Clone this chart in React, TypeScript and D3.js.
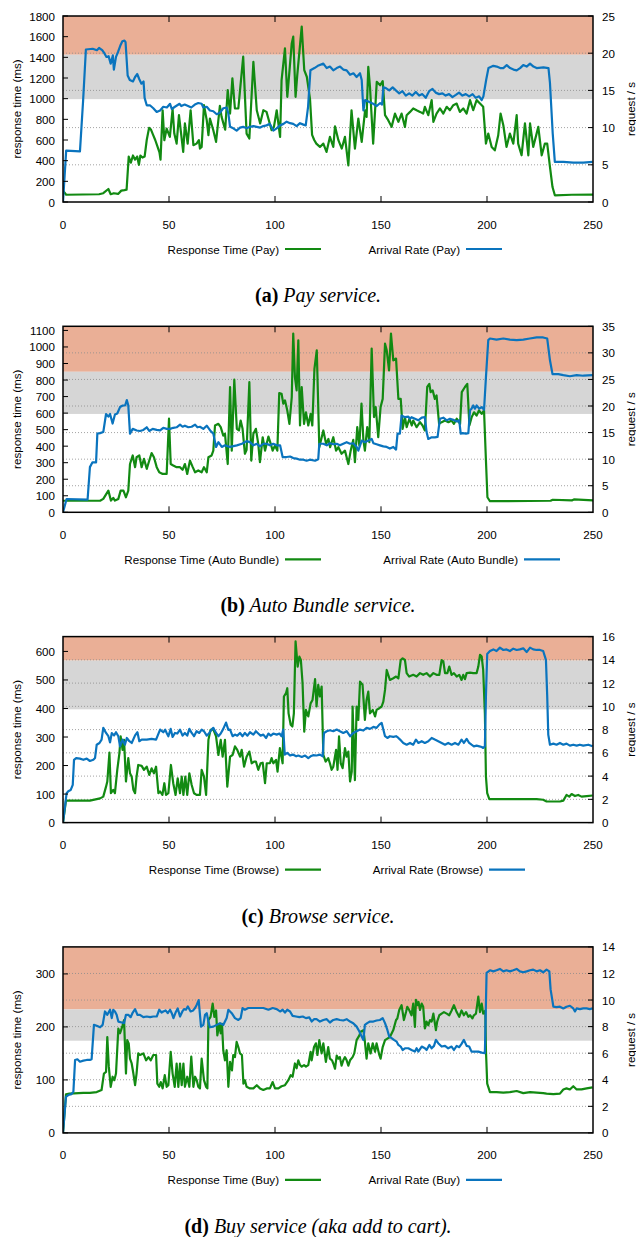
import React from 'react'
import * as d3 from 'd3'

type Pt = [number, number]

// time axis (s)
const xTicks = [0, 50, 100, 150, 200, 250]

// (a) Pay: response time (ms) and arrival rate (req/s), [t, value]
const payResponse: Pt[] = [
    [0, 110], [1.5, 70], [17, 75], [19, 85], [21.4, 126], [22.5, 75], [24, 85], [26, 78], [27.5, 110], [29, 115],
    [30, 120], [31, 440], [32, 380], [33, 450], [34, 410], [35, 440], [35.8, 360], [36.5, 450], [37.5, 430], [38.5, 440],
    [39.5, 600], [40.6, 717], [41.5, 700], [42.5, 650], [43.5, 600], [44.5, 540], [45.5, 480], [46, 410], [47, 888], [47.8, 598],
    [48.9, 711], [50.4, 630], [51.7, 898], [52.5, 662], [53.6, 565], [54.7, 840], [56.7, 485], [57.5, 760], [58.8, 565], [60.2, 888],
    [61.5, 550], [63, 565], [64.1, 598], [64.6, 517], [65.4, 533], [66.5, 937], [67.8, 792], [68.6, 646], [69.3, 808], [70.9, 695],
    [72.2, 582], [74, 930], [74.8, 824], [76.5, 700], [77.7, 1082], [78.8, 856], [79.9, 1196], [81.1, 905], [82.7, 905], [85, 1406],
    [86.6, 662], [87.9, 614], [89.8, 1357], [91.4, 888], [93, 760], [94.5, 888], [96, 872], [98.4, 695], [99.5, 727], [100.8, 888],
    [102.4, 630], [103.1, 1180], [104.7, 1486], [105.8, 1018], [107.9, 1535], [108.6, 1600], [109.7, 1018], [110.5, 1228], [112.6, 1697], [113.8, 1277],
    [115, 1212], [116.5, 1000], [117.5, 650], [118.5, 600], [119.5, 565], [121.2, 533], [122.8, 565], [124.3, 485], [125.9, 630], [127.5, 533],
    [128.3, 733], [129.9, 598], [131.5, 517], [133, 630], [134.6, 355], [136.1, 888], [137.7, 517], [139.3, 808], [140.9, 582], [142.5, 888],
    [143.2, 824], [144, 1309], [144.8, 1115], [146.3, 565], [148, 1163], [149.6, 1130], [150.8, 1170], [151.9, 840], [153.4, 792], [155, 727],
    [156.6, 856], [158.2, 776], [159.7, 856], [161.3, 727], [162.1, 840], [163.7, 872], [165.2, 905], [166.8, 888], [168.4, 872], [169.9, 856],
    [170.7, 921], [172.3, 840], [173.9, 986], [174.7, 776], [176.2, 856], [177.8, 905], [179.4, 856], [181, 921], [182.5, 888], [184.1, 937],
    [185.7, 953], [187.2, 872], [188.8, 905], [190.4, 856], [192, 986], [193.5, 888], [195.1, 986], [196.7, 953], [198.2, 921], [199.5, 565],
    [200.6, 662], [202.2, 533], [203.7, 500], [205.3, 646], [206.4, 856], [207.7, 743], [209.2, 533], [210.8, 662], [212.4, 565], [214, 840],
    [214.7, 565], [216.3, 452], [217.9, 760], [219.5, 452], [220.3, 760], [221.8, 533], [224.2, 727], [225.8, 452], [227.3, 565], [228.4, 565],
    [229.7, 339], [230.9, 145], [232, 65], [240, 70], [250, 71],
]
const payArrival: Pt[] = [
    [0, 0], [1.5, 6.9], [8, 6.8], [9.5, 13.7], [10.8, 20.5], [14, 20.6], [16, 20.4], [17, 20.7], [18.5, 20.4], [19.5, 20.0],
    [20.5, 19.5], [21.5, 19.6], [22.5, 18.6], [23.5, 19.7], [24, 17.8], [25, 19.5], [26, 20.2], [27, 21.0], [28, 21.6], [29, 21.7],
    [29.5, 21.5], [30.5, 17.0], [31.5, 16.4], [33, 16.2], [34, 16.8], [35, 17.2], [36, 16.5], [37, 15.9], [38, 16.2], [38.5, 14.0],
    [39.5, 13.0], [41, 13.0], [42.6, 12.6], [44.2, 12.1], [45.8, 12.3], [47.3, 12.8], [49, 12.7], [50.5, 13.2], [51.3, 12.5], [52.8, 12.8],
    [55, 13.2], [55.8, 12.9], [57.4, 13.1], [59, 12.9], [60.5, 12.7], [62.2, 13.1], [63.8, 13.3], [65.4, 13.2], [66.2, 12.7], [67.8, 12.8],
    [69.3, 12.3], [70.9, 12.2], [72.5, 11.8], [74, 12.0], [75.6, 12.6], [77.2, 12.7], [78, 11.9], [78.8, 10.1], [80.3, 9.9], [81.9, 9.6],
    [83.5, 10.0], [85, 10.1], [86.6, 9.9], [88.2, 10.1], [89.8, 10.2], [91.4, 10.1], [93, 10.0], [94.5, 10.2], [96, 10.3], [97.6, 10.5],
    [99.2, 9.6], [100.8, 9.9], [102.4, 10.3], [104, 10.5], [105.5, 10.8], [107.1, 10.6], [108.6, 10.5], [110.2, 10.2], [111.8, 10.6], [113.4, 10.4],
    [114.5, 10.3], [115.6, 12.8], [116.7, 17.7], [118.6, 18.0], [120.2, 18.3], [122.8, 18.6], [124.4, 18.0], [125.9, 18.2], [127.5, 17.7], [129.1, 18.0],
    [130.7, 18.2], [132.2, 17.8], [133.8, 17.7], [135.4, 17.1], [137, 17.3], [138.5, 16.8], [140.1, 17.3], [140.9, 16.4], [141.7, 12.3], [142.5, 13.7],
    [144, 13.5], [146.3, 13.2], [148, 12.9], [149.6, 13.3], [150.5, 13.1], [151.1, 15.4], [152.3, 15.3], [153.9, 15.0], [155.5, 15.4], [157, 15.0],
    [158.6, 14.6], [160.1, 14.9], [161.7, 14.3], [163.3, 14.6], [164.8, 14.3], [166.4, 14.8], [168, 14.3], [169.5, 14.5], [171.1, 14.0], [172.7, 14.9],
    [174.3, 15.2], [175.8, 14.7], [177.4, 14.5], [179, 14.6], [180.5, 14.3], [182.1, 14.5], [183.7, 14.1], [185.3, 14.4], [186.8, 14.7], [188.4, 14.3],
    [190, 14.5], [191.6, 14.2], [193.2, 14.5], [194.7, 14.0], [196.3, 14.2], [197.5, 13.7], [198.3, 14.2], [199.6, 16.4], [200.7, 18.0], [203, 18.3],
    [204.6, 18.2], [206.2, 18.0], [207.7, 18.0], [209.3, 18.4], [210.9, 18.0], [212.5, 17.8], [214, 17.7], [215.6, 18.0], [217.1, 18.4], [218.7, 18.2],
    [220.3, 18.6], [221.9, 18.2], [223.4, 18.0], [226.6, 18.1], [229, 18.0], [229.7, 16.0], [231, 9.2], [232, 5.4], [236, 5.4], [240.7, 5.3],
    [245.4, 5.3], [249.8, 5.4],
]

// (b) Auto Bundle
const bundleResponse: Pt[] = [
    [0, 70], [17.5, 70], [19, 81], [21.4, 131], [22.6, 71], [23.7, 87], [24.5, 71], [26.1, 81], [27.2, 131], [28.5, 131],
    [29.7, 91], [30.8, 131], [31.6, 292], [32.9, 344], [34, 273], [34.7, 333], [36, 344], [37.1, 273], [38.2, 323], [39.5, 263],
    [40.7, 313], [41.8, 358], [42.9, 333], [44.2, 273], [45.4, 242], [47, 232], [48.9, 232], [50, 566], [50.8, 292], [52, 283],
    [53.6, 273], [55.2, 273], [56.4, 257], [57.5, 292], [58.6, 232], [59.9, 313], [61.2, 273], [62.3, 242], [63.8, 253], [65.4, 242],
    [66.5, 273], [67.8, 242], [68.6, 333], [70.1, 344], [70.9, 373], [71.7, 525], [73.3, 535], [74.4, 515], [75.6, 464], [76.4, 475],
    [77.7, 292], [78.8, 758], [79.6, 373], [80.8, 802], [82, 505], [83, 495], [83.8, 555], [84.7, 505], [85.8, 354], [86.6, 378],
    [87.9, 787], [88.8, 313], [89.8, 475], [91, 505], [92.1, 414], [92.9, 303], [94.2, 454], [95.3, 373], [96.9, 458], [98, 414],
    [98.9, 373], [100, 404], [101.1, 373], [102, 721], [103.1, 717], [103.9, 657], [104.7, 677], [105.8, 616], [106.8, 535], [107.9, 696],
    [108.6, 1081], [109.4, 818], [110.2, 737], [111, 1040], [111.8, 525], [112.6, 758], [113.7, 535], [114.6, 605], [115.7, 525], [116.8, 595],
    [117.6, 525], [118.6, 868], [119.7, 980], [120.9, 394], [122.8, 495], [124.1, 414], [125.2, 444], [126, 394], [127.5, 454], [128.8, 373],
    [129.9, 394], [131.4, 354], [133, 373], [134.6, 292], [135.7, 373], [136.9, 438], [137.7, 303], [138.8, 515], [139.8, 404], [140.8, 657],
    [141.7, 435], [142.4, 373], [143.5, 515], [144.5, 424], [145.6, 990], [146.7, 576], [147.5, 636], [148.7, 454], [149.8, 636], [150.8, 686],
    [151.9, 1020], [152.7, 980], [153.8, 858], [154.7, 1081], [155.8, 919], [157.1, 930], [158.2, 686], [159.3, 686], [160.2, 505], [161.3, 576],
    [162.1, 515], [163.4, 566], [164.5, 525], [165.2, 555], [166.8, 515], [168.4, 545], [169.6, 525], [170.7, 495], [171.8, 758], [172.8, 777],
    [173.4, 727], [174.4, 737], [175.4, 686], [176.2, 707], [177.4, 535], [178.6, 545], [180.2, 555], [181.8, 545], [183.3, 555], [184.4, 535],
    [185.7, 566], [187.3, 535], [188.1, 727], [189.6, 758], [190.7, 777], [191.7, 525], [192.8, 576], [193.9, 605], [195.1, 585], [196.2, 616],
    [197.5, 595], [198.6, 616], [199.5, 313], [200.2, 91], [201.4, 67], [230, 70], [231, 76], [240, 72], [241, 78], [250, 72],
]
const bundleArrival: Pt[] = [
    [0, 0], [1.7, 2.5], [11.6, 2.4], [12.7, 8.5], [13.9, 9.4], [15.6, 9.4], [16.2, 14.8], [17.5, 14.9], [19, 15.1], [20.3, 18.5],
    [21.4, 18.0], [22.2, 18.5], [23.4, 16.7], [24.5, 18.4], [25.6, 18.6], [26.9, 19.8], [28.2, 20.1], [29.3, 20.1], [30.1, 21.1], [30.8, 20.1],
    [31.6, 14.8], [32.9, 15.7], [34.8, 15.4], [36.3, 15.3], [37.9, 15.5], [39.5, 16.0], [40.7, 15.3], [42.3, 15.7], [44.2, 15.5], [45.8, 15.4],
    [47.3, 15.9], [48.9, 15.7], [50.5, 15.7], [52, 15.9], [53.6, 16.0], [55.2, 16.5], [56.4, 16.1], [57.5, 16.3], [59.1, 16.0], [60.7, 16.1],
    [62.3, 16.5], [63.4, 16.0], [64.6, 16.1], [66.2, 15.7], [67.8, 16.3], [69.4, 15.4], [70.9, 14.8], [72.2, 12.3], [73.3, 13.2], [74.9, 12.3],
    [76.4, 12.6], [78.8, 12.3], [82, 12.6], [84.4, 12.9], [86.6, 13.4], [88.2, 13.2], [89.8, 12.6], [91.4, 12.9], [92.9, 12.4], [94.5, 12.9],
    [96.1, 12.9], [97.6, 12.6], [99.2, 12.9], [100.8, 12.6], [102.4, 12.6], [103.6, 10.4], [105.5, 10.4], [107.1, 10.5], [108.6, 10.2], [110.2, 10.1],
    [111.8, 9.9], [113.4, 9.9], [114.9, 9.7], [116.5, 9.9], [118.9, 9.7], [120.4, 10.0], [120.9, 12.9], [122.8, 12.9], [124.4, 12.6], [125.9, 13.0],
    [127.5, 12.8], [129.1, 12.9], [130.6, 12.6], [132.2, 12.9], [133.8, 13.2], [135.4, 12.9], [136.9, 13.0], [138.5, 12.3], [139.3, 11.6], [140.9, 13.5],
    [142.4, 13.2], [144, 13.5], [145.6, 13.8], [146.4, 13.0], [147.9, 12.8], [149.5, 12.6], [151.1, 12.4], [152.7, 12.3], [154.2, 12.0], [155.8, 12.3],
    [157.1, 11.8], [157.8, 14.8], [158.9, 14.8], [159.7, 18.2], [161.3, 17.9], [162.9, 18.0], [163.7, 17.6], [164.4, 17.9], [166, 17.6], [167.6, 17.3],
    [169.2, 17.8], [170.7, 17.9], [171.5, 15.1], [172.3, 13.8], [173.9, 14.1], [175.4, 14.1], [176.7, 14.2], [177.8, 17.6], [179.4, 17.8], [181, 17.3],
    [182.5, 17.6], [184.1, 17.4], [185.7, 17.1], [186.9, 17.3], [187.6, 14.8], [188.5, 14.9], [190.1, 14.8], [191.2, 14.9], [192, 19.2], [192.7, 19.5],
    [193.5, 20.1], [194.3, 19.5], [195.1, 20.1], [196.4, 19.5], [197.5, 19.8], [198.6, 19.3], [199.5, 25.4], [200.6, 32.4], [201.4, 32.7], [204.5, 32.5],
    [207.7, 32.7], [210.8, 32.5], [214, 32.4], [217.1, 32.5], [220.2, 32.7], [223.4, 32.9], [226.5, 32.9], [228.4, 32.7], [229.7, 28.6], [230.9, 26.0],
    [233.6, 26.0], [236, 25.8], [239.1, 25.6], [242.3, 25.8], [245.4, 25.7], [249.8, 25.8],
]

// (c) Browse
const browseResponse: Pt[] = [
    [0, 0], [1.4, 77], [12.7, 77], [17.5, 85], [19, 91], [20.3, 126], [20.9, 144], [21.9, 245], [22.6, 103], [23.7, 115],
    [24.5, 103], [25.6, 185], [26.6, 243], [27.2, 302], [28.1, 255], [28.8, 290], [29.7, 144], [30.8, 226], [31.6, 173], [32.4, 161],
    [33.2, 115], [34, 103], [34.7, 161], [35.5, 202], [37.1, 199], [38.2, 185], [39.5, 196], [40.7, 167], [41.8, 190], [42.9, 173],
    [43.9, 196], [45, 103], [45.8, 109], [46.9, 97], [47.8, 138], [48.6, 97], [49.7, 103], [50.9, 202], [52, 138], [53.1, 97],
    [54.1, 155], [55.2, 103], [56, 161], [56.8, 97], [57.7, 161], [58.6, 97], [59.6, 173], [60.7, 132], [61.8, 103], [63, 97],
    [64.6, 97], [65.4, 185], [66.5, 161], [67.5, 97], [68.6, 290], [69.6, 325], [70.9, 327], [72.2, 302], [73.3, 237], [74.4, 290],
    [75.3, 231], [76.4, 290], [77.5, 126], [78.8, 231], [80, 237], [81.1, 267], [82.2, 255], [83.5, 231], [84.3, 255], [85.4, 196],
    [86.6, 231], [87.9, 249], [89, 208], [90.1, 214], [91, 214], [92.1, 185], [93.2, 208], [94.2, 210], [95.3, 138], [96.1, 208],
    [97.6, 208], [98.4, 226], [99.2, 208], [100.5, 220], [101.2, 179], [102.3, 261], [103.6, 208], [104.2, 442], [105.2, 454], [105.8, 471],
    [106.4, 383], [107.4, 343], [108.2, 337], [108.9, 383], [109.7, 635], [110.7, 547], [111.5, 582], [112.2, 570], [113, 489], [113.8, 319],
    [114.6, 395], [115.7, 372], [116.8, 418], [117.7, 430], [118.9, 503], [119.6, 407], [120.4, 483], [121.2, 442], [122, 477], [122.8, 237],
    [123.9, 214], [125.1, 226], [125.9, 208], [126.7, 185], [127.5, 196], [128.8, 255], [129.5, 185], [130.2, 302], [131, 208], [131.9, 191],
    [133, 261], [133.8, 231], [134.6, 249], [135.4, 144], [136.2, 179], [136.6, 407], [137.7, 149], [138.5, 407], [139.3, 360], [140.1, 494],
    [141.3, 483], [142.4, 360], [143.2, 430], [144, 459], [144.8, 383], [146.1, 395], [147.2, 372], [147.9, 395], [149.2, 401], [150.3, 407],
    [151.1, 424], [151.9, 465], [152.7, 535], [154.2, 500], [155.8, 506], [157.1, 512], [158.2, 506], [159.3, 570], [160.2, 576], [161.3, 570],
    [162.1, 524], [163.3, 512], [165.2, 518], [166.8, 512], [168.4, 524], [169.9, 518], [171.5, 524], [173.1, 512], [174.7, 524], [176.2, 518],
    [177.5, 518], [178.6, 570], [179.4, 565], [180.2, 524], [181.3, 524], [182.2, 547], [183.3, 518], [184.4, 524], [185.7, 512], [186.9, 518],
    [188, 500], [188.8, 518], [189.6, 503], [190.4, 524], [192, 526], [193.5, 524], [195.1, 524], [195.9, 547], [196.7, 588], [197.5, 582],
    [198.2, 535], [199, 383], [199.5, 161], [200.1, 103], [201.1, 82], [210.8, 82], [223.4, 82], [226.5, 80], [228.1, 74], [234.4, 74],
    [236, 77], [237.5, 97], [238.8, 91], [239.9, 100], [241.5, 93], [243, 97], [244.6, 91], [247, 93], [249.8, 95],
]
const browseArrival: Pt[] = [
    [0, 0], [1.7, 2.53], [2.5, 2.7], [3.6, 2.8], [4.6, 3.25], [5.2, 5.4], [6.2, 5.55], [8, 5.5], [9.6, 5.4], [11.2, 5.5],
    [12.7, 5.3], [14.3, 5.4], [15.1, 5.55], [15.9, 6.7], [17.2, 6.85], [18.2, 7.14], [19, 8.15], [20.3, 7.71], [21.4, 7.43], [22.2, 6.9],
    [23, 7.7], [24.1, 7.5], [25, 7.77], [26.1, 7.43], [26.9, 6.56], [28.1, 7.14], [29.2, 6.7], [30.1, 7.28], [31.3, 7.0], [32.4, 6.85],
    [34, 7.5], [35.1, 7.77], [36, 7.0], [37.1, 7.14], [39.5, 7.14], [41.8, 7.2], [43.9, 7.14], [45.8, 8.0], [47.3, 7.77], [48.2, 8.0],
    [48.9, 7.71], [49.7, 7.43], [50.8, 8.06], [51.7, 7.37], [52.8, 7.71], [53.9, 7.66], [55.2, 8.0], [56.4, 7.48], [57.5, 7.71], [58.6, 7.48],
    [59.6, 8.06], [60.7, 7.71], [61.8, 7.43], [63, 7.86], [64.3, 7.71], [65.4, 8.0], [66.5, 7.86], [67.8, 7.48], [69, 7.71], [70.1, 8.0],
    [70.9, 8.15], [72.2, 7.71], [73.3, 7.43], [74.4, 7.66], [75.6, 8.06], [76.9, 8.6], [78, 7.97], [78.8, 8.0], [80, 7.43], [81.1, 7.57],
    [82.2, 7.48], [83.5, 7.71], [84.7, 7.43], [85.8, 7.71], [87, 7.48], [88.2, 7.77], [89.8, 7.57], [91, 7.86], [92.1, 7.66], [93.2, 7.48],
    [94.5, 7.57], [95.8, 7.28], [96.9, 7.66], [98, 7.48], [99.2, 7.66], [100.8, 7.57], [102.1, 7.66], [103.1, 7.43], [103.9, 8.0], [104.6, 5.85],
    [105.8, 6.0], [107.1, 5.77], [108.4, 5.85], [110, 5.7], [111, 5.77], [112.6, 5.65], [114.2, 5.77], [115.7, 5.55], [116.8, 5.7], [118, 5.8],
    [119.6, 5.77], [121.2, 5.85], [122.5, 5.7], [123.1, 7.71], [124.4, 7.86], [125.9, 7.94], [127.5, 7.86], [129.1, 8.0], [130.6, 7.86], [132.2, 7.71],
    [133.8, 7.86], [135.4, 7.43], [136.9, 7.71], [138.5, 7.86], [140.1, 8.0], [141.7, 7.92], [143.2, 8.15], [144.8, 8.06], [146.4, 8.23], [147.9, 8.15],
    [149.2, 8.43], [150.3, 8.58], [151.1, 8.0], [151.9, 7.43], [153, 7.28], [154.2, 7.43], [155.8, 7.37], [157.1, 7.43], [158.2, 7.28], [159, 7.14],
    [160.5, 6.85], [162.1, 6.7], [163.7, 6.85], [165.2, 6.7], [166.5, 7.14], [167.6, 6.85], [169.2, 7.0], [170.7, 6.85], [172.3, 7.0], [173.9, 7.28],
    [175.4, 7.14], [177, 7.0], [178.6, 6.85], [180.2, 6.7], [181.7, 6.85], [183.3, 6.7], [184.9, 6.85], [186.5, 6.7], [188, 7.14], [189.1, 6.85],
    [190.4, 7.2], [191.6, 6.85], [192.7, 6.7], [193.8, 6.56], [195.1, 6.62], [196.4, 6.56], [197.5, 6.5], [198.2, 6.42], [199, 6.56], [199.5, 10.9],
    [200.1, 14.5], [201.4, 14.76], [203, 14.9], [204.5, 14.76], [206.1, 15.05], [207.7, 14.85], [209.2, 14.9], [210.8, 14.76], [212.4, 14.96], [214, 14.85],
    [215.5, 14.9], [217.1, 14.99], [218.7, 14.67], [220.3, 15.05], [221.8, 14.9], [223.4, 14.85], [225, 14.85], [226.5, 14.76], [227.8, 14.0], [228.4, 10.9],
    [228.9, 7.57], [229.7, 6.7], [231.3, 6.79], [232.8, 6.7], [234.4, 6.85], [236, 6.7], [237.5, 6.79], [239.1, 6.62], [240.7, 6.7], [242.3, 6.62],
    [243.8, 6.7], [245.4, 6.62], [247.8, 6.7], [249.8, 6.56],
]

// (d) Buy
const buyResponse: Pt[] = [
    [0, 0], [1.4, 73], [3, 74], [9.6, 75.5], [12.7, 75.5], [15.9, 77], [18.2, 81], [19.3, 112], [20.3, 115], [20.9, 181],
    [21.6, 125], [22.5, 87], [23.4, 106], [24.2, 99.5], [25, 112], [26.1, 197], [26.9, 188], [27.4, 194], [28.1, 203], [28.8, 213],
    [29.7, 112], [30.3, 175], [31, 169], [31.6, 140], [32.4, 131], [33.2, 112], [34, 90], [34.7, 112], [35.5, 150], [36.3, 147],
    [37.9, 150], [39.2, 137], [40.3, 143], [41.4, 137], [42.6, 147], [43.9, 147], [44.5, 93], [45.4, 87], [46.1, 96], [47, 84],
    [48, 109], [48.9, 87], [49.7, 90], [50.8, 153], [51.7, 112], [52.7, 87], [53.6, 131], [54.4, 87], [55.2, 131], [56, 90],
    [56.8, 131], [57.5, 87], [58.6, 106], [59.6, 87], [60.5, 144], [61.5, 87], [62.3, 106], [63.1, 99.5], [63.8, 87], [64.6, 84],
    [65.4, 140], [66.5, 99.5], [67.5, 87], [68.1, 84], [68.6, 213], [69.6, 219], [70.6, 244], [71.4, 219], [72.2, 231], [72.8, 184],
    [73.8, 206], [74.4, 188], [75, 206], [75.6, 156], [76.4, 137], [77.2, 156], [78, 87], [78.8, 134], [79.7, 118], [80.3, 147],
    [81.1, 143], [81.9, 172], [82.7, 162], [83.5, 150], [84.4, 147], [85.1, 93], [85.8, 99.5], [86.6, 87], [88.2, 84], [89.8, 84],
    [91.4, 90], [92.9, 84], [94.5, 81], [96.1, 84], [97.6, 84], [98.9, 96], [100, 84], [101.6, 84], [103.1, 88], [104.7, 90],
    [106.3, 99.5], [107.4, 109], [108.3, 106], [109.4, 131], [110.2, 122], [111, 137], [111.8, 128], [112.6, 125], [113.7, 128], [114.6, 125],
    [115.7, 128], [116.8, 153], [117.3, 137], [118.4, 162], [119.3, 169], [120, 147], [120.9, 175], [122, 150], [122.8, 169], [124, 134],
    [125.1, 162], [125.9, 140], [126.9, 137], [127.5, 131], [128.3, 121], [129.1, 146], [129.9, 140], [130.6, 143], [131.4, 127], [132.2, 137],
    [133, 143], [133.8, 137], [134.6, 127], [135.4, 137], [136.6, 143], [137.4, 150], [138.5, 175], [139.8, 184], [140.4, 191], [141.7, 194],
    [142.4, 172], [143.2, 140], [144, 169], [145.1, 150], [146.1, 169], [147.2, 153], [147.9, 169], [149.2, 147], [149.8, 140], [150.8, 162],
    [151.9, 175], [153, 178], [154.2, 181], [155.8, 194], [157.1, 213], [157.7, 216], [158.6, 232], [159.7, 241], [160.8, 213], [161.8, 228],
    [162.4, 238], [163.3, 232], [164.4, 222], [165.2, 244], [166, 200], [166.5, 251], [167.1, 241], [167.7, 247], [168.4, 232], [169.2, 244],
    [169.9, 238], [170.7, 197], [171.5, 210], [172.3, 203], [173.1, 213], [173.9, 210], [174.7, 225], [175.9, 194], [176.5, 210], [177.5, 222],
    [178.6, 225], [179.7, 228], [181, 225], [182.2, 222], [183.3, 231], [184.4, 241], [185.7, 228], [186.9, 219], [188, 231], [189.1, 222],
    [190.1, 228], [191.2, 219], [192, 222], [193.1, 216], [193.8, 222], [194.8, 225], [195.9, 257], [196.7, 228], [197.5, 244], [198.2, 225],
    [199.2, 231], [199.5, 156], [200.1, 93], [201.4, 77], [204.5, 77], [207.7, 76], [210.8, 77], [214, 79], [217.1, 75], [220.3, 77],
    [223.4, 76], [226.5, 75], [228.1, 74], [231.3, 73], [234.4, 74], [236, 82], [237.5, 84], [239.1, 82], [240.7, 88], [242.3, 82],
    [244.6, 82], [247, 84], [249.8, 86],
]
const buyArrival: Pt[] = [
    [0, 0], [1.4, 2.72], [2.5, 2.85], [4, 2.92], [4.9, 3.1], [5.7, 5.49], [6.8, 5.54], [8, 5.36], [9.6, 5.44], [11.2, 5.49],
    [12.7, 5.49], [13.5, 5.54], [14.6, 8.13], [15.9, 8.06], [17.5, 7.95], [18.7, 8.13], [19.8, 9.14], [20.9, 8.89], [22.2, 9.27], [23, 8.64],
    [23.7, 9.27], [24.5, 9.14], [25.3, 8.89], [26.1, 8.38], [27.7, 8.31], [28.8, 8.26], [29.7, 8.89], [30.8, 8.89], [31.9, 8.71], [32.9, 9.06],
    [34, 9.32], [35.1, 8.89], [36.3, 8.89], [37.9, 8.71], [39.5, 8.76], [41.1, 8.71], [42.6, 8.76], [44.2, 8.76], [45.4, 9.27], [46.5, 9.06],
    [47.3, 9.14], [48.4, 9.22], [49.4, 9.01], [50.5, 9.27], [51.3, 9.01], [52.1, 8.64], [53.1, 9.06], [54.1, 9.37], [55.2, 8.76], [56.3, 9.14],
    [57.1, 9.32], [58, 9.27], [58.9, 9.52], [60.2, 9.14], [61.4, 9.22], [62.3, 9.4], [63.1, 9.65], [64, 10.0], [65.1, 8.0], [66.2, 8.13],
    [67, 8.89], [67.8, 9.01], [68.6, 8.38], [69.3, 7.95], [70.9, 8.0], [72.5, 8.13], [74.1, 8.26], [75.6, 8.13], [77.2, 8.64], [78, 9.27],
    [79.6, 9.01], [81.1, 8.64], [82.7, 8.5], [83.8, 8.64], [84.7, 9.4], [85.8, 9.27], [87.4, 9.4], [89.8, 9.4], [92.1, 9.4], [94.5, 9.4],
    [96.9, 9.27], [98.9, 9.4], [100.8, 9.32], [102.4, 9.14], [103.6, 9.27], [104.7, 9.06], [105.8, 9.27], [107.1, 9.14], [108.3, 8.81], [109.9, 8.76],
    [111.5, 8.71], [113.1, 8.76], [114.6, 8.64], [116.2, 8.69], [117.3, 8.38], [118.4, 8.56], [119.6, 8.56], [121.2, 8.38], [122.8, 8.5], [124.4, 8.56],
    [125.9, 8.31], [127.5, 8.5], [129.1, 8.56], [130.6, 8.5], [132.2, 8.46], [133.8, 8.56], [135.4, 8.38], [136.9, 8.26], [138.5, 8.0], [139.8, 7.63],
    [140.9, 7.25], [141.7, 7.0], [142.4, 8.13], [143.5, 8.26], [144.8, 8.38], [146.4, 8.38], [147.9, 8.46], [149.5, 8.5], [150.8, 8.64], [151.9, 8.26],
    [153, 7.75], [153.9, 7.25], [155, 7.13], [156.1, 7.0], [157.4, 6.87], [158.2, 6.62], [159.3, 6.5], [160.2, 6.24], [161.3, 6.37], [162.9, 6.37],
    [164.4, 6.24], [166, 6.12], [166.8, 6.37], [167.6, 6.12], [169.2, 6.5], [170.7, 6.37], [171.5, 6.24], [172.8, 6.62], [173.9, 6.37], [175, 6.55],
    [175.9, 7.0], [177, 6.75], [178.6, 6.5], [180.2, 6.55], [181.7, 6.37], [183.3, 6.5], [184.4, 6.24], [185.7, 6.55], [186.9, 6.45], [188, 6.7],
    [189.1, 7.0], [190.4, 6.55], [191.6, 6.5], [192.7, 6.12], [194.3, 6.12], [195.9, 6.12], [197.5, 6.04], [199, 6.0], [199.8, 12.04], [201.4, 12.24],
    [203, 12.16], [204.5, 12.24], [206.1, 12.34], [207.7, 12.16], [209.2, 12.24], [210.8, 12.16], [212.4, 12.24], [214, 12.34], [215.5, 12.16], [217.1, 12.09],
    [218.7, 12.16], [220.3, 12.24], [221.8, 12.29], [223.4, 12.16], [225, 12.24], [226.5, 12.09], [228.1, 12.29], [229.4, 12.16], [230, 10.8], [231.3, 9.5],
    [232.8, 9.47], [234.4, 9.5], [236, 9.37], [237.5, 9.5], [239.1, 9.57], [240.7, 9.37], [241.5, 9.14], [242.3, 9.37], [243.8, 9.32], [245.4, 9.37],
    [247, 9.37], [248.5, 9.32], [249.8, 9.37],
]

// axis ticks per panel
const payMsTicks = [0, 200, 400, 600, 800, 1000, 1200, 1400, 1600, 1800]
const payRateTicks = [0, 5, 10, 15, 20, 25]
const bundleMsTicks = [0, 100, 200, 300, 400, 500, 600, 700, 800, 900, 1000, 1100]
const bundleRateTicks = [0, 5, 10, 15, 20, 25, 30, 35]
const browseMsTicks = [0, 100, 200, 300, 400, 500, 600]
const browseRateTicks = [0, 2, 4, 6, 8, 10, 12, 14, 16]
const buyMsTicks = [0, 100, 200, 300]
const buyRateTicks = [0, 2, 4, 6, 8, 10, 12, 14]

const panels = [
    { letter: 'a', name: 'Pay', caption: 'Pay service.', response: payResponse, arrival: payArrival,
      msMax: 1800, rateMax: 25, msTicks: payMsTicks, rateTicks: payRateTicks, grayFrom: 995, grayTo: 1425, key2: 460 },
    { letter: 'b', name: 'Auto Bundle', caption: 'Auto Bundle service.', response: bundleResponse, arrival: bundleArrival,
      msMax: 1125, rateMax: 35, msTicks: bundleMsTicks, rateTicks: bundleRateTicks, grayFrom: 595, grayTo: 850, key2: 518 },
    { letter: 'c', name: 'Browse', caption: 'Browse service.', response: browseResponse, arrival: browseArrival,
      msMax: 652, rateMax: 16, msTicks: browseMsTicks, rateTicks: browseRateTicks, grayFrom: 397, grayTo: 568, key2: 483 },
    { letter: 'd', name: 'Buy', caption: 'Buy service (aka add to cart).', response: buyResponse, arrival: buyArrival,
      msMax: 351, rateMax: 14, msTicks: buyMsTicks, rateTicks: buyRateTicks, grayFrom: 174, grayTo: 233, key2: 460 },
]

const W = 636
const H = 1237
const left = 63
const right = 593
const plotH = 186
const step = 310.3
const sans = '"Liberation Sans", Arial, sans-serif'
const serif = '"Liberation Serif", "Times New Roman", serif'
const GREEN = '#128a12'
const BLUE = '#0a74be'

const x = d3.scaleLinear().domain([0, 250]).range([left, right])

const Chart: React.FC<{ p: (typeof panels)[number]; i: number }> = ({ p, i }) => {
    const top = 16 + i * step
    const bottom = top + plotH
    const y = d3.scaleLinear().domain([0, p.msMax]).range([bottom, top])
    const y2 = d3.scaleLinear().domain([0, p.rateMax]).range([bottom, top])
    const greenPath = d3.line<Pt>().x((d) => x(d[0])).y((d) => y(d[1]))(p.response) || ''
    const bluePath = d3.line<Pt>().x((d) => x(d[0])).y((d) => y2(d[1]))(p.arrival) || ''
    const clipId = `clip-${p.letter}`
    const keyY = bottom + 47
    return (
        <g>
            <defs>
                <clipPath id={clipId}>
                    <rect x={left} y={top - 2} width={right - left} height={plotH + 2} />
                </clipPath>
            </defs>
            {/* SLO bands */}
            <rect x={left} y={top} width={right - left} height={y(p.grayTo) - top} fill="#eaaf96" />
            <rect x={left} y={y(p.grayTo)} width={right - left} height={y(p.grayFrom) - y(p.grayTo)} fill="#d6d6d6" />
            {/* grid on the request/s ticks */}
            {p.rateTicks.slice(1, -1).map((t) => (
                <line key={t} x1={left} x2={right} y1={y2(t)} y2={y2(t)} stroke="#8c8c8c" strokeWidth={0.8} strokeDasharray="1,2" />
            ))}
            <g clipPath={`url(#${clipId})`}>
                <path d={greenPath} fill="none" stroke={GREEN} strokeWidth={2.2} strokeLinejoin="round" />
                <path d={bluePath} fill="none" stroke={BLUE} strokeWidth={2.2} strokeLinejoin="round" />
            </g>
            <rect x={left} y={top} width={right - left} height={plotH} fill="none" stroke="#000" strokeWidth={1.5} />
            {/* ticks */}
            {xTicks.slice(1, -1).map((t) => (
                <g key={t} stroke="#000" strokeWidth={1}>
                    <line x1={x(t)} x2={x(t)} y1={bottom} y2={bottom - 6} />
                    <line x1={x(t)} x2={x(t)} y1={top} y2={top + 6} />
                </g>
            ))}
            {p.msTicks.map((t) => (
                <line key={t} x1={left} x2={left + 5} y1={y(t)} y2={y(t)} stroke="#000" strokeWidth={1} />
            ))}
            {p.rateTicks.map((t) => (
                <line key={t} x1={right} x2={right - 5} y1={y2(t)} y2={y2(t)} stroke="#000" strokeWidth={1} />
            ))}
            <g fontFamily={sans} fontSize={11.6} fill="#000">
                {p.msTicks.map((t) => (
                    <text key={t} x={left - 8} y={y(t)} textAnchor="end" dominantBaseline="central">{t}</text>
                ))}
                {p.rateTicks.map((t) => (
                    <text key={t} x={right + 9} y={y2(t)} textAnchor="start" dominantBaseline="central">{t}</text>
                ))}
                {xTicks.map((t) => (
                    <text key={t} x={x(t)} y={bottom + 22} textAnchor="middle" dominantBaseline="central">{t}</text>
                ))}
                <text transform={`translate(16,${(top + bottom) / 2}) rotate(-90)`} textAnchor="middle" dominantBaseline="central">
                    response time (ms)
                </text>
                <text transform={`translate(630,${(top + bottom) / 2}) rotate(-90)`} textAnchor="middle" dominantBaseline="central">
                    request / s
                </text>
                {/* legend */}
                <text x={279} y={keyY} textAnchor="end" dominantBaseline="central">{`Response Time (${p.name})`}</text>
                <line x1={285} x2={321} y1={keyY} y2={keyY} stroke={GREEN} strokeWidth={2.2} />
                <text x={p.key2} y={keyY} textAnchor="end" dominantBaseline="central">{`Arrival Rate (${p.name})`}</text>
                <line x1={p.key2 + 6} x2={p.key2 + 42} y1={keyY} y2={keyY} stroke={BLUE} strokeWidth={2.2} />
            </g>
            <text x={W / 2} y={bottom + 93} textAnchor="middle" dominantBaseline="central" fontFamily={serif} fontSize={20}>
                <tspan fontWeight="bold">({p.letter})</tspan>
                <tspan fontStyle="italic">{' ' + p.caption}</tspan>
            </text>
        </g>
    )
}

const App: React.FC = () => (
    <div style={{ position: 'absolute', left: 0, top: 0, background: '#fff' }}>
        <svg width={W} height={H} viewBox={`0 0 ${W} ${H}`} style={{ display: 'block' }}>
            <rect width={W} height={H} fill="#fff" />
            {panels.map((p, i) => (
                <Chart key={p.letter} p={p} i={i} />
            ))}
        </svg>
    </div>
)

export default App
